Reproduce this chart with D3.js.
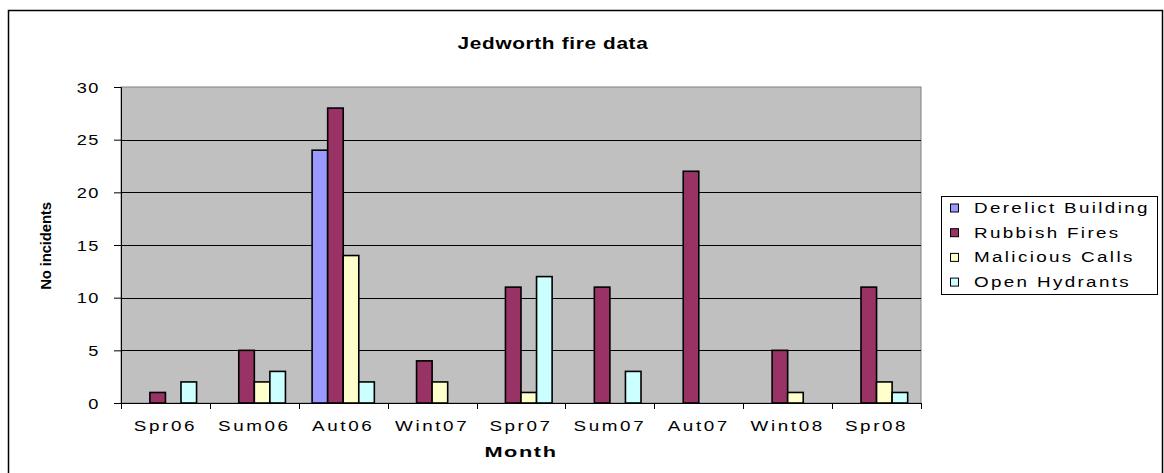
<!DOCTYPE html>
<html>
<head>
<meta charset="utf-8">
<script src="https://cdn.jsdelivr.net/npm/d3@7"></script>
<style>
  html, body { margin: 0; padding: 0; background: #fff; }
  svg { display: block; }
  text { font-family: "Liberation Sans", Arial, sans-serif; fill: #000; }
</style>
</head>
<body>
<svg id="chart" width="1164" height="473"></svg>
<script>
// Seasons on the x axis
const categories = ["Spr06", "Sum06", "Aut06", "Wint07", "Spr07", "Sum07", "Aut07", "Wint08", "Spr08"];
// Incident types (legend order)
const seriesNames = ["Derelict Building", "Rubbish Fires", "Malicious Calls", "Open Hydrants"];
const seriesColors = ["#9999FF", "#993366", "#FFFFCC", "#CCFFFF"];
// Number of incidents per season for each type
const derelictBuilding = [0, 0, 24, 0, 0, 0, 0, 0, 0];
const rubbishFires     = [1, 5, 28, 4, 11, 11, 22, 5, 11];
const maliciousCalls   = [0, 2, 14, 2, 1, 0, 0, 1, 2];
const openHydrants     = [2, 3, 2, 0, 12, 3, 0, 0, 1];
const yTicks = [0, 5, 10, 15, 20, 25, 30];

const seriesValues = [derelictBuilding, rubbishFires, maliciousCalls, openHydrants];

const svg = d3.select("#chart");
const SX = 1.3; // horizontal text stretch

// chart area border
svg.append("rect")
  .attr("x", 8.5).attr("y", 10.5).attr("width", 1154).attr("height", 480)
  .attr("fill", "#fff").attr("stroke", "#000").attr("stroke-width", 1.5);

const plot = { left: 121, top: 87, right: 921, bottom: 403 };
const w = plot.right - plot.left, h = plot.bottom - plot.top;

const g = svg.append("g").attr("transform", `translate(${plot.left},${plot.top})`);

const x0 = d3.scaleBand().domain(categories).range([0, w]).padding(0);
const gap = x0.bandwidth() * 0.3;
const x1 = d3.scaleBand().domain(seriesNames).range([gap / 2, x0.bandwidth() - gap / 2]).padding(0);
const y = d3.scaleLinear().domain([0, 30]).range([h, 0]);

// plot background
g.append("rect").attr("width", w).attr("height", h)
  .attr("fill", "#C0C0C0").attr("stroke", "#808080").attr("stroke-width", 1);

// gridlines
g.append("g").selectAll("line").data(yTicks.filter(d => d > 0 && d < 30)).join("line")
  .attr("x1", 0).attr("x2", w)
  .attr("y1", d => Math.round(y(d)) + 0.5).attr("y2", d => Math.round(y(d)) + 0.5)
  .attr("stroke", "#000").attr("stroke-width", 1);

// bars
const rows = [];
categories.forEach((c, i) => {
  seriesNames.forEach((s, k) => {
    const v = seriesValues[k][i];
    if (v > 0) rows.push({ c, s, v, color: seriesColors[k] });
  });
});
g.append("g").selectAll("rect").data(rows).join("rect")
  .attr("x", d => x0(d.c) + x1(d.s))
  .attr("y", d => y(d.v))
  .attr("width", x1.bandwidth())
  .attr("height", d => y(0) - y(d.v))
  .attr("fill", d => d.color)
  .attr("stroke", "#000").attr("stroke-width", 1.6);

// y axis
const yAxis = g.append("g")
  .call(d3.axisLeft(y).tickValues(yTicks).tickSize(7).tickPadding(0).tickFormat(d3.format("d")));
yAxis.select(".domain").attr("stroke", "#000");
yAxis.selectAll(".tick line").attr("stroke", "#000");
yAxis.selectAll(".tick text")
  .attr("x", -21 / SX).attr("dy", "0.36em")
  .attr("transform", `scale(${SX},1)`)
  .style("font-size", "14px").style("letter-spacing", "1.2px")
  .attr("text-anchor", "end").attr("fill", "#000");

// x axis
const xAxis = g.append("g").attr("transform", `translate(0,${h})`)
  .call(d3.axisBottom(x0).tickSize(0).tickPadding(0));
xAxis.select(".domain").attr("stroke", "#000");
xAxis.selectAll(".tick text")
  .attr("y", 28).attr("dy", 0)
  .attr("transform", `scale(${SX},1)`)
  .style("font-size", "14.5px").style("letter-spacing", "2px").attr("fill", "#000");
// tick marks between categories
g.append("g").selectAll("line").data(d3.range(categories.length + 1)).join("line")
  .attr("x1", i => Math.round(i * x0.step()) + 0.5).attr("x2", i => Math.round(i * x0.step()) + 0.5)
  .attr("y1", h).attr("y2", h + 6).attr("stroke", "#000");

// titles
function stretchedText(parent, x, yPos, str, size, weight, sx, spacing) {
  return parent.append("text")
    .attr("transform", `translate(${x},${yPos}) scale(${sx},1)`)
    .attr("text-anchor", "middle")
    .style("font-size", size + "px").style("font-weight", weight)
    .style("letter-spacing", spacing + "px")
    .text(str);
}
stretchedText(svg, 553, 49, "Jedworth fire data", 16, "bold", 1.3, 0.5);
stretchedText(svg, 521, 457, "Month", 15, "bold", 1.45, 1.1);

svg.append("text")
  .attr("transform", "translate(51,246) rotate(-90)")
  .attr("text-anchor", "middle")
  .style("font-size", "15px").style("font-weight", "bold").style("letter-spacing", "-0.2px")
  .text("No incidents");

// legend
const lg = svg.append("g").attr("transform", "translate(941,196)");
lg.append("rect").attr("x", 0.5).attr("y", 0.5).attr("width", 216).attr("height", 98)
  .attr("fill", "#fff").attr("stroke", "#000").attr("stroke-width", 1);
const items = lg.selectAll("g.item").data(seriesNames).join("g")
  .attr("class", "item")
  .attr("transform", (d, i) => `translate(0,${11.5 + i * 24.7})`);
items.append("rect")
  .attr("x", 9.5).attr("y", -3.5).attr("width", 8).attr("height", 8)
  .attr("fill", (d, i) => seriesColors[i]).attr("stroke", "#000").attr("stroke-width", 1);
items.append("text")
  .attr("transform", `translate(33,5.5) scale(${SX},1)`)
  .style("font-size", "14.5px").style("letter-spacing", "1.8px")
  .text(d => d);
</script>
</body>
</html>
